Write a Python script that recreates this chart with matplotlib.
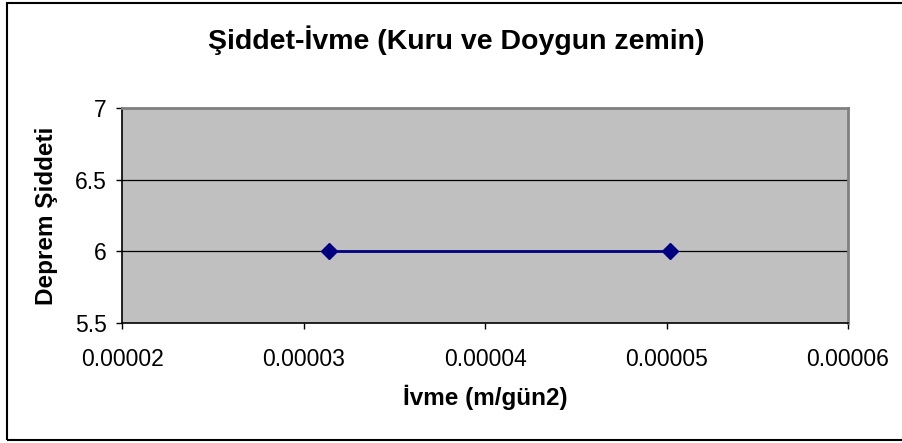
import matplotlib
matplotlib.use("Agg")
import matplotlib.pyplot as plt
from matplotlib.patches import Rectangle

plt.rcParams['font.family'] = ['Liberation Sans', 'DejaVu Sans']

# data
ivme = [0.0000314, 0.0000502]
siddet = [6, 6]
x_ticks = [0.00002, 0.00003, 0.00004, 0.00005, 0.00006]
x_labels = ["0.00002", "0.00003", "0.00004", "0.00005", "0.00006"]
y_ticks = [5.5, 6, 6.5, 7]
y_labels = ["5.5", "6", "6.5", "7"]

fig = plt.figure(figsize=(9.03, 4.43), dpi=100)
W, H = 903, 443

# outer chart frame
fig.patches.append(Rectangle((7 / W, 3 / H), 1.0, 437 / H, transform=fig.transFigure,
                             fill=False, edgecolor="black", linewidth=1.5))

ax = fig.add_axes([122 / W, 120 / H, 726 / W, 215 / H])
ax.set_facecolor("#C0C0C0")

for y in [6, 6.5]:
    ax.axhline(y, color="black", linewidth=0.9, zorder=1)

ax.plot(ivme, siddet, color="#000080", linewidth=2, marker="D", markersize=8,
        markerfacecolor="#000080", markeredgecolor="#000080", zorder=3)

ax.set_xlim(0.00002, 0.00006)
ax.set_ylim(5.5, 7)
ax.set_xticks(x_ticks)
ax.set_xticklabels(x_labels)
ax.set_yticks(y_ticks)
ax.set_yticklabels(y_labels)

ax.tick_params(axis="both", direction="out", length=4, width=1, colors="black", labelsize=16.5)
ax.tick_params(axis="x", pad=14)
ax.tick_params(axis="y", pad=7)

for s in ["top", "right"]:
    ax.spines[s].set_color("#808080")
    ax.spines[s].set_linewidth(2)
for s in ["left", "bottom"]:
    ax.spines[s].set_color("black")
    ax.spines[s].set_linewidth(1.2)

ax.set_xlabel("İvme (m/gün2)", fontsize=17.5, fontweight="bold", labelpad=10)
ax.set_ylabel("Deprem Şiddeti", fontsize=17.5, fontweight="bold", labelpad=12)

fig.text(456 / W, 1 - 40 / H, "Şiddet-İvme (Kuru ve Doygun zemin)", fontsize=20.5,
         fontweight="bold", ha="center", va="center")

fig.savefig("out.png", dpi=100)
